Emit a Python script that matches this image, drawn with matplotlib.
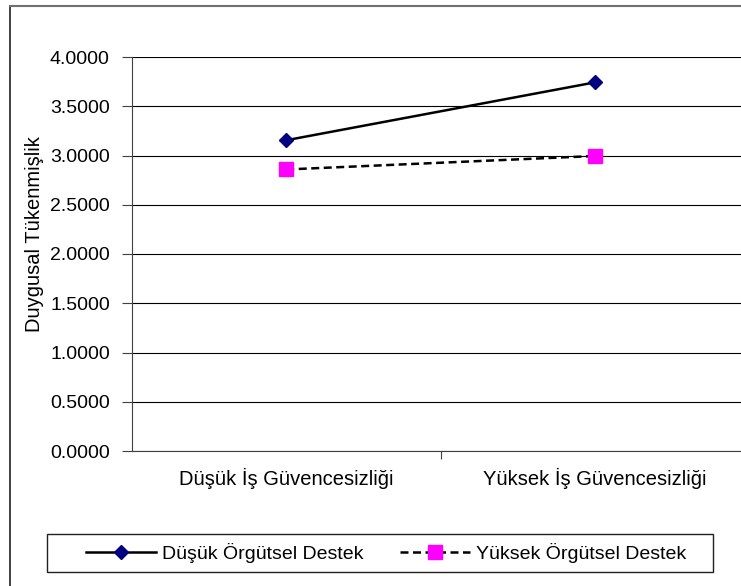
import matplotlib
matplotlib.use("Agg")
import matplotlib.pyplot as plt
from matplotlib.lines import Line2D
from matplotlib.patches import Rectangle

plt.rcParams['font.family'] = ['Liberation Sans', 'DejaVu Sans']

categories = ["Düşük İş Güvencesizliği", "Yüksek İş Güvencesizliği"]
series_names = ["Düşük Örgütsel Destek", "Yüksek Örgütsel Destek"]
low_support = [3.155, 3.742]
high_support = [2.858, 2.995]
yticks = [0.0, 0.5, 1.0, 1.5, 2.0, 2.5, 3.0, 3.5, 4.0]
ytick_labels = ["%.4f" % v for v in yticks]
y_label = "Duygusal Tükenmişlik"

W, H = 741, 586
fig = plt.figure(figsize=(W / 100, H / 100), dpi=100)

# figure border (top and left visible)
fig.add_artist(Line2D([10 / W, 10 / W], [0, 1 - 6 / H], color="#202020", lw=1.2, transform=fig.transFigure))
fig.add_artist(Line2D([10 / W, 1], [1 - 6 / H, 1 - 6 / H], color="#707070", lw=1.5, transform=fig.transFigure))

left, right, top, bottom = 132, 749, 57, 451
ax = fig.add_axes([left / W, 1 - bottom / H, (right - left) / W, (bottom - top) / H])

x = list(range(len(categories)))
ax.plot(x, low_support, color="black", lw=1.8, marker="D", markersize=7.5,
        markerfacecolor="#000080", markeredgecolor="#000080", label=series_names[0], zorder=3)
ax.plot(x, high_support, color="black", lw=1.8, ls=(0, (3.2, 1.8)), marker="s", markersize=10,
        markerfacecolor="#FF00FF", markeredgecolor="#FF00FF", label=series_names[1], zorder=3)

ax.set_ylim(0, 4)
ax.set_xlim(-0.5, 1.5)
ax.set_yticks(yticks)
ax.set_yticklabels(ytick_labels, fontsize=14)
ax.yaxis.grid(True, color="black", lw=0.8)
ax.set_axisbelow(True)

ax.set_xticks([0.5])
ax.set_xticklabels([""])
ax.set_xticks(x, minor=True)
ax.set_xticklabels(categories, minor=True, fontsize=14.5)
ax.tick_params(axis="x", which="minor", length=0, pad=12)
ax.tick_params(axis="x", which="major", length=6, color="#404040")
ax.tick_params(axis="y", length=7, color="#404040", pad=9)

for s in ["top", "right"]:
    ax.spines[s].set_visible(False)
ax.spines["left"].set_color("#404040")
ax.spines["bottom"].set_color("#404040")

fig.text(35 / W, 1 - 234 / H, y_label, rotation=90, ha="center", va="center", fontsize=14.5)

# legend frame
fig.add_artist(Rectangle((47 / W, 1 - 572 / H), (713 - 47) / W, (572 - 534) / H,
                         transform=fig.transFigure, fill=False, edgecolor="#202020", lw=1.0))
leg = fig.legend(handles=ax.get_lines(), labels=series_names, ncol=2,
                 loc="center", bbox_to_anchor=((85 + 687) / 2 / W, 1 - 553 / H),
                 frameon=False, fontsize=14,
                 handlelength=3.6, columnspacing=1.9, handletextpad=0.3,
                 borderpad=0.3)

fig.savefig("out.png", dpi=100)
